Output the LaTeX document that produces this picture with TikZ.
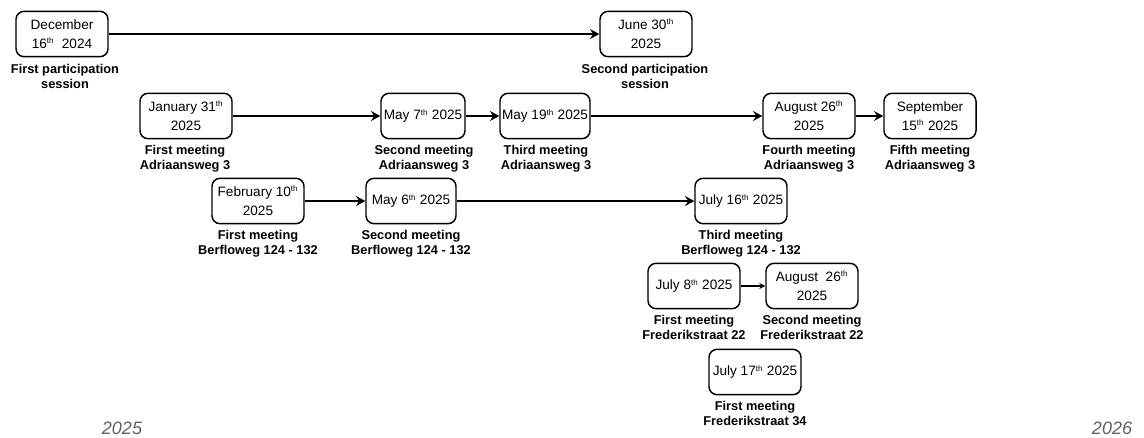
\documentclass[tikz,border=0pt]{standalone}
\usepackage{fontspec}
\setmainfont{Liberation Sans}
\usetikzlibrary{arrows.meta}
\newcommand{\thsup}{\textsuperscript{\fontsize{6}{6}\selectfont th}}
\begin{document}
\begin{tikzpicture}[x=0.75pt,y=-0.75pt,
  datebox/.style={draw, line width=1.1pt, rounded corners=6pt, minimum width=69pt, minimum height=34pt, inner sep=1pt, align=center, font=\fontsize{10.2}{14.2}\selectfont},
  lbl/.style={align=center, inner sep=0pt, font=\fontsize{9.6}{11}\selectfont\bfseries},
  conn/.style={line width=1.9pt, -{Stealth[length=7pt,width=7.5pt,inset=2.5pt]}},
  thinconn/.style={line width=0.8pt, -{Stealth[length=4.5pt,width=4.5pt,inset=1.5pt]}},
  yearlbl/.style={font=\fontsize{13.5}{15}\selectfont\itshape, text=black!62, inner sep=0pt}]
\useasboundingbox (0,0) rectangle (1144,437);
% boxes
\node[datebox] (dec) at (62,34) {December\\16\thsup\ \ 2024};
\node[datebox] (jun) at (646,34) {June 30\thsup\\2025};
\node[datebox] (jan) at (186,116) {January 31\thsup\\2025};
\node[datebox, minimum width=63pt] (may7) at (423,116) {May 7\thsup\ 2025};
\node[datebox, minimum width=67.5pt] (may19) at (545,116) {May 19\thsup\ 2025};
\node[datebox] (aug) at (809,116) {August 26\thsup\\2025};
\node[datebox] (sep) at (930,116) {September\\15\thsup\ 2025};
\node[datebox] (feb) at (258,201) {February 10\thsup\\2025};
\node[datebox, minimum width=67.5pt] (may6) at (411,201) {May 6\thsup\ 2025};
\node[datebox] (jul16) at (741,201) {July 16\thsup\ 2025};
\node[datebox] (jul8) at (694,286) {July 8\thsup\ 2025};
\node[datebox] (aug2) at (812,286) {August\ \ 26\thsup\\2025};
\node[datebox] (jul17) at (755,372) {July 17\thsup\ 2025};
% labels
\node[lbl, anchor=north] (ldec) at (65,64) {First participation\\session};
\node[lbl, anchor=north] (ljun) at (645,64) {Second participation\\session};
\node[lbl, anchor=north] (ljan) at (185,145) {First meeting\\Adriaansweg 3};
\node[lbl, anchor=north] (lmay7) at (424,145) {Second meeting\\Adriaansweg 3};
\node[lbl, anchor=north] (lmay19) at (546,145) {Third meeting\\Adriaansweg 3};
\node[lbl, anchor=north] (laug) at (809,145) {Fourth meeting\\Adriaansweg 3};
\node[lbl, anchor=north] (lsep) at (930,145) {Fifth meeting\\Adriaansweg 3};
\node[lbl, anchor=north] (lfeb) at (258,230) {First meeting\\Berfloweg 124 - 132};
\node[lbl, anchor=north] (lmay6) at (411,230) {Second meeting\\Berfloweg 124 - 132};
\node[lbl, anchor=north] (ljul16) at (741,230) {Third meeting\\Berfloweg 124 - 132};
\node[lbl, anchor=north] (ljul8) at (694,315) {First meeting\\Frederikstraat 22};
\node[lbl, anchor=north] (laug2) at (812,315) {Second meeting\\Frederikstraat 22};
\node[lbl, anchor=north] (ljul17) at (755,401) {First meeting\\Frederikstraat 34};
% years
\node[yearlbl] (y25) at (122,428) {2025};
\node[yearlbl] (y26) at (1112,428) {2026};
% connectors
\draw[conn] (dec) -- (jun);
\draw[conn] (jan) -- (may7);
\draw[conn] (may7) -- (may19);
\draw[conn] (may19) -- (aug);
\draw[conn] (aug) -- (sep);
\draw[conn] (feb) -- (may6);
\draw[conn] (may6) -- (jul16);
\draw[thinconn] (jul8) -- (aug2);
\end{tikzpicture}
\end{document}
